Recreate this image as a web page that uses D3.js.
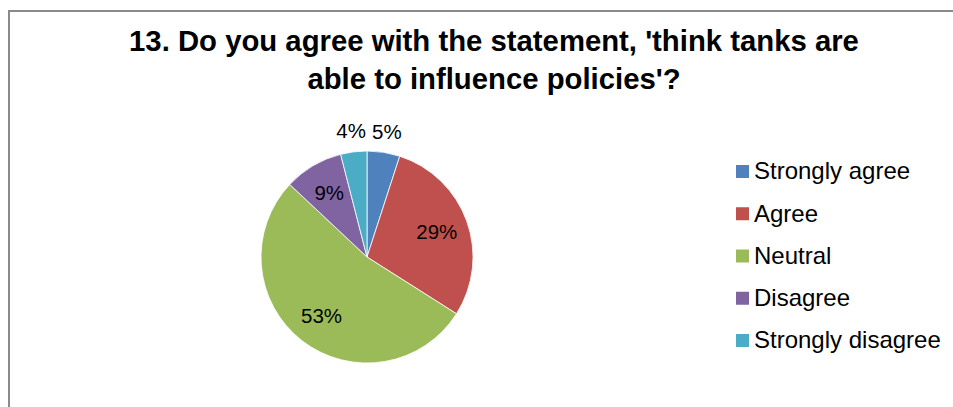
<!DOCTYPE html>
<html>
<head>
<meta charset="utf-8">
<script src="https://cdn.jsdelivr.net/npm/d3@7"></script>
<style>
  html, body { margin: 0; padding: 0; background: #fff; }
  svg { display: block; font-family: "Liberation Sans", Arial, sans-serif; }
</style>
</head>
<body>
<svg id="chart" width="953" height="407"></svg>
<script>
// Survey answers and their shares (%)
const categories = ["Strongly agree", "Agree", "Neutral", "Disagree", "Strongly disagree"];
const shares = [5, 29, 53, 9, 4];
const colors = ["#4F81BD", "#C0504D", "#9BBB59", "#8064A2", "#4BACC6"];
const titleLines = ["13. Do you agree with the statement, 'think tanks are",
                    "able to influence policies'?"];

const W = 953, H = 407;
const svg = d3.select("#chart");

// chart frame (right and bottom edges run past the view)
svg.append("rect")
  .attr("x", 9).attr("y", 11)
  .attr("width", W + 20).attr("height", H + 20)
  .attr("fill", "#fff")
  .attr("stroke", "#8a8a8a")
  .attr("stroke-width", 2);

// title
svg.append("g").selectAll("text")
  .data(titleLines)
  .join("text")
  .attr("x", 494)
  .attr("y", (d, i) => 51 + i * 38)
  .attr("text-anchor", "middle")
  .attr("font-size", 29.3)
  .attr("font-weight", "bold")
  .attr("fill", "#000")
  .text(d => d);

// pie
const cx = 367, cy = 257, r = 106;
const data = categories.map((c, i) => ({ name: c, value: shares[i], color: colors[i] }));
const pie = d3.pie().value(d => d.value).sort(null);
const arcs = pie(data);
const arc = d3.arc().innerRadius(0).outerRadius(r);

const g = svg.append("g").attr("transform", `translate(${cx},${cy})`);
g.selectAll("path")
  .data(arcs)
  .join("path")
  .attr("d", arc)
  .attr("fill", d => d.data.color)
  .attr("stroke", "#fff")
  .attr("stroke-width", 0.8);

// data labels: inside for wide slices, just outside the rim for narrow ones
const inner = d3.arc().innerRadius(r * 0.7).outerRadius(r * 0.7);
const outer = d3.arc().innerRadius(r + 21).outerRadius(r + 21);
g.selectAll("text.lbl")
  .data(arcs)
  .join("text")
  .attr("class", "lbl")
  .attr("transform", d => {
    const p = (d.data.value < 6 ? outer : inner).centroid(d);
    return `translate(${p[0]},${p[1] + 7})`;
  })
  .attr("text-anchor", "middle")
  .attr("font-size", 20.5)
  .attr("fill", "#000")
  .text(d => d.data.value + "%");

// legend
const legend = svg.append("g").attr("transform", "translate(736,165)");
const row = legend.selectAll("g")
  .data(data)
  .join("g")
  .attr("transform", (d, i) => `translate(0,${i * 42.25})`);
row.append("rect")
  .attr("width", 13).attr("height", 13)
  .attr("fill", d => d.color);
row.append("text")
  .attr("x", 18).attr("y", 14.3)
  .attr("font-size", 24)
  .attr("fill", "#000")
  .text(d => d.name);
</script>
</body>
</html>
